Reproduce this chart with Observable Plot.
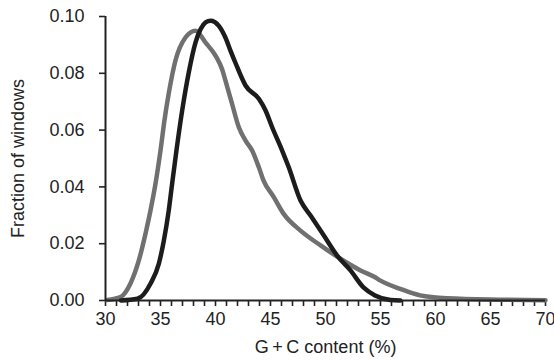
<!DOCTYPE html>
<html>
<head>
<meta charset="utf-8">
<script src="https://cdn.jsdelivr.net/npm/d3@7"></script>
<script src="https://cdn.jsdelivr.net/npm/@observablehq/plot@0.6"></script>
<style>
  html, body { margin: 0; padding: 0; background: #fff; }
</style>
</head>
<body>
<div id="chart"></div>
<script>
// G+C content (%) values and fraction of windows
const blackX = [31.4, 32.9, 34.1, 34.85, 35.3, 35.75, 36.06, 36.45, 36.97, 37.57, 38.18, 38.64, 39.1, 39.55, 40.3, 40.9, 41.36, 41.8, 42.73, 43.94, 44.55, 45.15, 46.06, 46.66, 47.73, 48.64, 49.85, 51.06, 52.27, 53.45, 54.5, 55.9, 56.8];
const blackY = [0, 0.0006, 0.006, 0.013, 0.021, 0.0317, 0.0412, 0.0528, 0.0669, 0.0803, 0.0908, 0.0955, 0.0979, 0.0985, 0.0967, 0.0926, 0.088, 0.0838, 0.0757, 0.071, 0.0669, 0.061, 0.0528, 0.0469, 0.0352, 0.0299, 0.0229, 0.0158, 0.0106, 0.0046, 0.0018, 0.0002, 0];

const grayX = [30.15, 31.36, 32.27, 33.03, 33.64, 34.09, 34.55, 35.0, 35.36, 35.75, 36.36, 37.27, 38.18, 39.1, 40.0, 40.6, 40.9, 41.5, 42.12, 42.73, 43.33, 43.94, 44.36, 45.3, 46.2, 47.73, 49.55, 51.36, 53.18, 54.55, 55.0, 56.8, 58.6, 61.06, 65.9, 70.0];
const grayY = [0.0002, 0.0012, 0.006, 0.0141, 0.0236, 0.0317, 0.0412, 0.0528, 0.0634, 0.0729, 0.0845, 0.0926, 0.095, 0.0908, 0.0862, 0.0814, 0.0775, 0.0693, 0.061, 0.0563, 0.0528, 0.0469, 0.0423, 0.0364, 0.0305, 0.0246, 0.0194, 0.0147, 0.0106, 0.0081, 0.007, 0.0041, 0.0018, 0.0008, 0.0003, 0.0001];

const xTickLabels = [30, 35, 40, 45, 50, 55, 60, 65, 70];
const xMinorTicks = d3.range(30, 71);
const yTickLabels = [0, 0.02, 0.04, 0.06, 0.08, 0.10];

const black = blackX.map((x, i) => ({x, y: blackY[i]}));
const gray = grayX.map((x, i) => ({x, y: grayY[i]}));

const chart = Plot.plot({
  width: 554,
  height: 360,
  marginLeft: 105,
  marginRight: 9,
  marginTop: 16,
  marginBottom: 60,
  style: {fontFamily: "'Liberation Sans', Arial, sans-serif", fontSize: "18px", color: "#222", background: "#fff"},
  x: {domain: [30, 70]},
  y: {domain: [0, 0.1]},
  marks: [
    Plot.axisY({
      ticks: yTickLabels, tickFormat: d3.format(".2f"), tickSize: 6, tickPadding: 15,
      strokeWidth: 1.6, stroke: "#222", fontSize: 18,
      label: "Fraction of windows", labelAnchor: "center", labelOffset: 94, labelArrow: "none"
    }),
    Plot.axisX({
      ticks: xMinorTicks, tickFormat: d => xTickLabels.includes(d) ? String(d) : "",
      tickSize: 6, tickPadding: 6, strokeWidth: 1.6, stroke: "#222", fontSize: 18,
      label: "G\u2009+\u2009C content (%)", labelAnchor: "center", labelOffset: 52, labelArrow: "none"
    }),
    Plot.line(gray, {x: "x", y: "y", stroke: "#707070", strokeWidth: 4.5, curve: "monotone-x"}),
    Plot.line(black, {x: "x", y: "y", stroke: "#1c1c1c", strokeWidth: 4.5, curve: "monotone-x"}),
    Plot.ruleX([30], {stroke: "#222", strokeWidth: 2}),
    Plot.ruleY([0], {stroke: "#222", strokeWidth: 2})
  ]
});
document.getElementById("chart").appendChild(chart);
</script>
</body>
</html>
